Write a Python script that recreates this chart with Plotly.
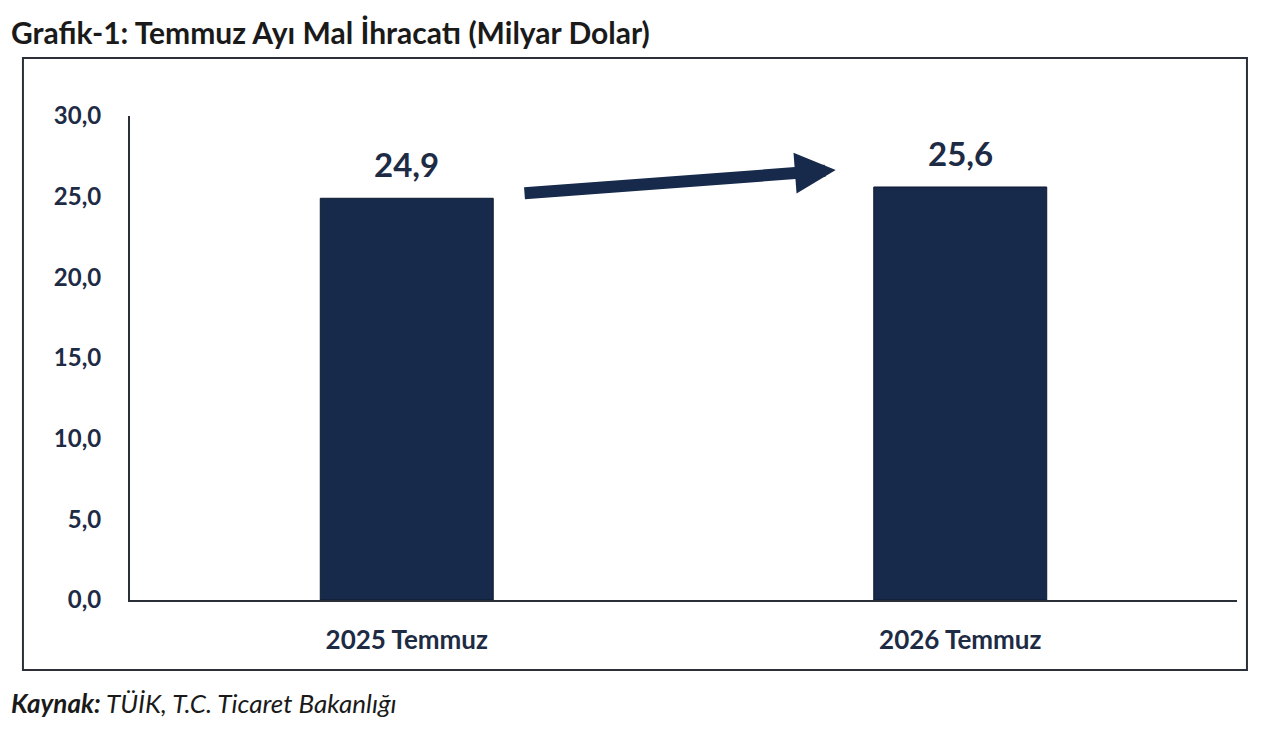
import plotly.graph_objects as go

categories = ["2025 Temmuz", "2026 Temmuz"]
values = [24.9, 25.6]
tick_vals = [0, 5, 10, 15, 20, 25, 30]
tick_text = ["0,0", "5,0", "10,0", "15,0", "20,0", "25,0", "30,0"]

navy = "#172a4b"
label_col = "#1d2b45"

fig = go.Figure()
fig.add_trace(go.Bar(
    x=categories, y=values,
    marker=dict(color=navy, line=dict(color="#0e1a30", width=1)),
    hoverinfo="x+y",
))

# value labels above the bars
for c, v in zip(categories, values):
    fig.add_annotation(x=c, y=v, text=f"<b>{v:.1f}".replace(".", ",") + "</b>",
                       showarrow=False, yanchor="bottom", yshift=12,
                       font=dict(size=33, color=label_col, family="Lato"))

# growth arrow between the bars
fig.add_annotation(x=0.775, y=26.65, ax=0.21, ay=25.2,
                   xref="x", yref="y", axref="x", ayref="y",
                   text="", showarrow=True, arrowhead=2, arrowsize=0.68,
                   arrowwidth=12, arrowcolor=navy)

# outer frame
fig.add_shape(type="rect", xref="paper", yref="paper",
              x0=-0.0967, x1=1.009, y0=-0.1446, y1=1.12,
              line=dict(color="#2a2f38", width=2), layer="below")

fig.add_annotation(xref="paper", yref="paper", x=-0.109, y=1.174,
                   xanchor="left", yanchor="middle", showarrow=False,
                   text="<b>Grafik-1: Temmuz Ayı Mal İhracatı (Milyar Dolar)</b>",
                   font=dict(size=30, color="#1a1a1a", family="Lato"))
fig.add_annotation(xref="paper", yref="paper", x=-0.109, y=-0.213,
                   xanchor="left", yanchor="middle", showarrow=False,
                   text="<b><i>Kaynak:</i></b><i> TÜİK, T.C. Ticaret Bakanlığı</i>",
                   font=dict(size=26, color="#1a1a1a", family="Lato"))

fig.update_layout(
    width=1280, height=730,
    margin=dict(l=122, r=51, t=108, b=138),
    paper_bgcolor="white", plot_bgcolor="white",
    bargap=0.6875, showlegend=False,
    font=dict(family="Lato", color=label_col),
)
fig.update_xaxes(showline=True, linecolor="#2a2f38", linewidth=2,
                 showgrid=False, ticks="", ticklabelstandoff=16,
                 tickfont=dict(size=26, color=label_col, family="Lato", weight="bold"))
fig.update_yaxes(range=[0, 30], tickvals=tick_vals, ticktext=tick_text,
                 showline=True, linecolor="#2a2f38", linewidth=2,
                 showgrid=False, zeroline=False, ticks="", ticklabelstandoff=22,
                 tickfont=dict(size=24, color=label_col, family="Lato", weight="bold"))

fig.write_html("out.html")
